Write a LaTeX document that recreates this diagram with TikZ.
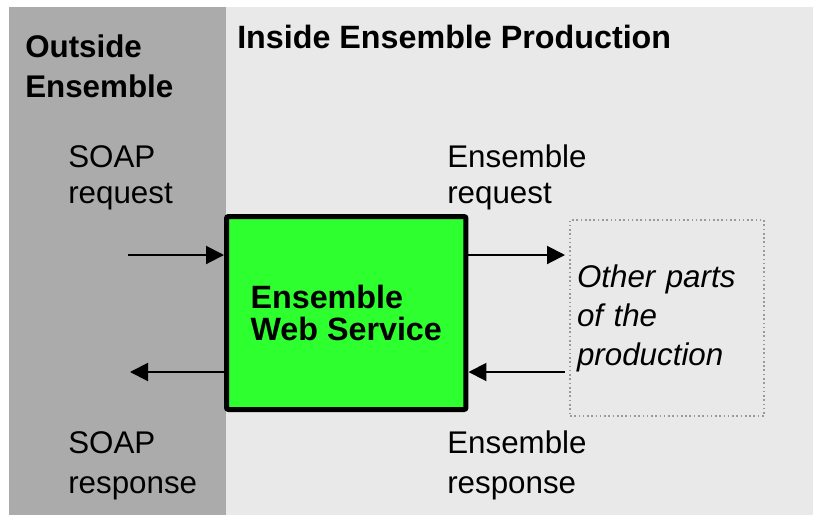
\documentclass[tikz,border=0pt]{standalone}
\usepackage{fontspec}
\setmainfont{Liberation Sans}
\usetikzlibrary{arrows.meta}
\definecolor{darkpanel}{HTML}{ABABAB}
\definecolor{lightpanel}{HTML}{E9E9E9}
\definecolor{wsgreen}{HTML}{2EFF2E}
\definecolor{dotgray}{HTML}{9A9A9A}
\begin{document}
\begin{tikzpicture}[x=0.75pt,y=-0.75pt,
  lbl/.style={anchor=north west,inner sep=0pt,align=left,font=\fontsize{23.5}{27}\selectfont},
  lblwide/.style={anchor=north west,inner sep=0pt,align=left,font=\fontsize{23.5}{30}\selectfont},
  hdr/.style={anchor=north west,inner sep=0pt,align=left,font=\fontsize{23.5}{30}\selectfont\bfseries},
  hdrwide/.style={anchor=north west,inner sep=0pt,align=left,font=\fontsize{24.2}{30}\selectfont\bfseries},
  wsbox/.style={draw=black,fill=wsgreen,line width=3.75pt,rounded corners=1.5pt,
    minimum width=179.6pt,minimum height=144.75pt,inner sep=0pt,align=left,
    font=\fontsize{24.2}{24}\selectfont\bfseries},
  otherbox/.style={draw=dotgray,dotted,line width=1.2pt,minimum width=145.5pt,minimum height=147pt,
    text width=135pt,inner xsep=5.25pt,inner ysep=0pt,align=left,
    font=\fontsize{23.5}{29.25}\selectfont\itshape},
  flow/.style={line width=1.5pt,-{Triangle[length=13.5pt,width=13.5pt]}}
]
\useasboundingbox (0,0) rectangle (813,515);
\fill[white] (0,0) rectangle (813,515);
\fill[lightpanel] (226,7) rectangle (813,515);
\fill[darkpanel] (9,7) rectangle (226,515);

\node[hdr] (outside) at (25,35) {Outside\\Ensemble};
\node[hdrwide] (inside) at (237,25) {Inside Ensemble Production};

\node[lbl] (soapreq) at (68,145) {SOAP\\request};
\node[lbl] (ensreq) at (447,145) {Ensemble\\request};
\node[lblwide] (soapresp) at (68,431) {SOAP\\response};
\node[lblwide] (ensresp) at (447,431) {Ensemble\\response};

\node[wsbox] (ws) at (346.25,313) {Ensemble\\Web Service};
\node[otherbox] (other) at (667,318) {Other parts\\of the\\production};

\coordinate (inL) at (128,255);
\coordinate (outL) at (130,372);
\coordinate (outR) at (565,255);
\coordinate (inR) at (565,372);

\draw[flow] (inL) -- (inL -| ws.west);
\draw[flow] (outL -| ws.west) -- (outL);
\draw[flow] (outR -| ws.east) -- (outR);
\draw[flow] (inR) -- (inR -| ws.east);
\end{tikzpicture}
\end{document}
